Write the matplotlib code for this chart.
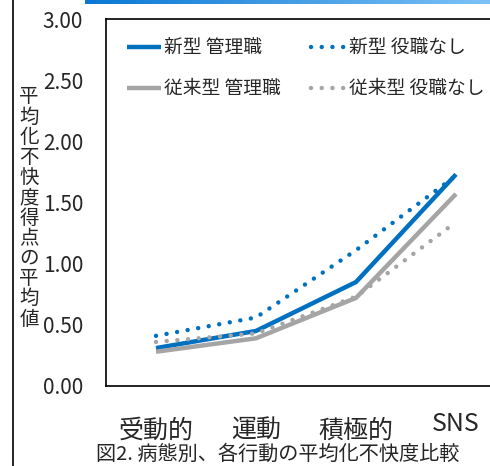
import numpy as np
import matplotlib.pyplot as plt
from matplotlib.colors import LinearSegmentedColormap

plt.rcParams['font.family'] = ['Noto Sans CJK JP', 'DejaVu Sans']

# データ
categories = ["受動的", "運動", "積極的", "SNS"]
new_manager = [0.31, 0.45, 0.85, 1.73]
new_staff = [0.41, 0.56, 1.11, 1.72]
old_manager = [0.28, 0.39, 0.72, 1.57]
old_staff = [0.36, 0.43, 0.73, 1.34]
yticks = [0.0, 0.5, 1.0, 1.5, 2.0, 2.5, 3.0]

blue = "#0070C0"
gray = "#A5A5A5"
txt = "#262626"

fig = plt.figure(figsize=(4.9, 4.66), dpi=100)
W, H = 490, 466

# 上部のグラデーションバー
bar = fig.add_axes([85 / W, 1 - 4 / H, 405 / W, 4 / H])
cmap = LinearSegmentedColormap.from_list("g", ["#0a78d4", "#7cc2f6"])
bar.imshow(np.linspace(0, 1, 256)[None, :], aspect="auto", cmap=cmap)
bar.axis("off")

# 左の縦線
fig.add_artist(plt.Line2D([13 / W, 13 / W], [0, 1], color="black", lw=1.2))

ax = fig.add_axes([106 / W, 1 - 386 / H, 400 / W, 367 / H])
x = np.arange(len(categories))
l1, = ax.plot(x, new_manager, color=blue, lw=3.2, solid_capstyle="butt", label="新型 管理職")
l2, = ax.plot(x, new_staff, color=blue, lw=3.2, linestyle=(0, (0.01, 2.4)),
              dash_capstyle="round", label="新型 役職なし")
l3, = ax.plot(x, old_manager, color=gray, lw=3.2, solid_capstyle="butt", label="従来型 管理職")
l4, = ax.plot(x, old_staff, color=gray, lw=3.2, linestyle=(0, (0.01, 2.4)),
              dash_capstyle="round", label="従来型 役職なし")

ax.set_xlim(-0.5, 3.5)
ax.set_ylim(0, 3.0)
ax.set_yticks(yticks)
ax.set_yticklabels([f"{v:.2f}" for v in yticks], fontsize=15, color=txt)
ax.set_xticks(x)
ax.set_xticklabels(categories, fontsize=18, color=txt)
ax.get_xticklabels()[3].set_y(0.02)
ax.tick_params(axis="both", length=0)
ax.tick_params(axis="y", pad=16.5)
ax.tick_params(axis="x", pad=23)
for s in ax.spines.values():
    s.set_linewidth(1.2)
    s.set_color("black")

# 凡例は行方向に並べる
leg = ax.legend([l1, l3, l2, l4], [l1.get_label(), l3.get_label(), l2.get_label(), l4.get_label()],
                ncol=2, frameon=False, fontsize=13.5, loc="upper left",
                bbox_to_anchor=(0.01, 0.995), handlelength=1.8, handletextpad=0.2,
                columnspacing=1.6, labelspacing=1.05)
for t in leg.get_texts():
    t.set_color(txt)

ylab = "\n".join("平均化不快度得点の平均値")
fig.text(29 / W, 1 - 208 / H, ylab, fontsize=14, ha="center", va="center",
         linespacing=0.95, color=txt)

fig.text(278 / W, 1 - 454 / H, "図2. 病態別、各行動の平均化不快度比較",
         fontsize=14.5, ha="center", va="center", color=txt)

fig.savefig("out.png", dpi=100)
